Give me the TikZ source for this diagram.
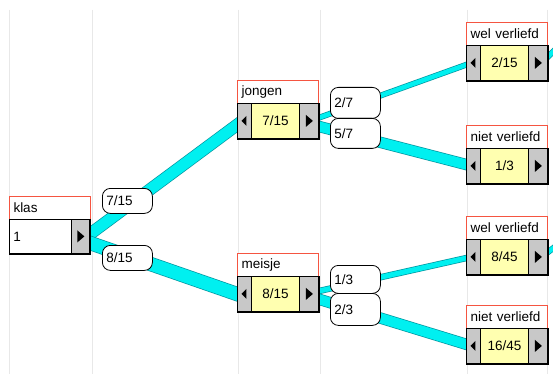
\documentclass[tikz,border=0pt]{standalone}
\usepackage{fontspec}
\setmainfont{Liberation Sans}
\usetikzlibrary{calc,backgrounds}
\definecolor{titlered}{RGB}{245,85,65}
\definecolor{valyellow}{RGB}{255,255,176}
\definecolor{btngray}{RGB}{200,200,200}
\definecolor{bandcyan}{RGB}{0,240,240}
\definecolor{bandedge}{RGB}{0,150,160}
\definecolor{gridgray}{RGB}{232,232,232}
\tikzset{
  gridline/.style={draw=gridgray, line width=1},
  titlebox/.style={draw=titlered, fill=white, line width=1, minimum width=81, minimum height=23,
    text width=73, inner xsep=4, inner ysep=0, align=left, anchor=north west},
  btn/.style={draw=black, fill=btngray, line width=0.8, minimum height=35, inner sep=0, anchor=north west},
  valbox/.style={draw=black, fill=valyellow, line width=0.8, minimum height=35, minimum width=48, inner sep=0, anchor=north west},
  whitebox/.style={draw=black, fill=white, line width=0.8, minimum height=34, minimum width=62,
    text width=54, inner xsep=4, inner ysep=0, align=left, anchor=north west},
  plabel/.style={draw=black, fill=white, line width=0.8, rounded corners=8, minimum width=50,
    text width=42, inner xsep=4, inner ysep=0, align=left, anchor=north west},
  band/.style={line width=#1, draw=bandcyan, preaction={draw=bandedge, line width=#1+1.4}},
}
\newcommand\rtri[1]{\fill[black] ($(#1.center)+(-3,-6)$) -- ++(0,12) -- ++(7,-6) -- cycle;}
\newcommand\ltri[1]{\fill[black] ($(#1.center)+(2,-5)$) -- ++(0,10) -- ++(-5,-5) -- cycle;}
\newcommand\pbox[5]{%
  \node[titlebox] (#1T) at (#2,#3) {#4};
  \node[btn, minimum width=14] (#1L) at (#2,#3+23) {};
  \node[valbox] (#1V) at (#2+14,#3+23) {#5};
  \node[btn, minimum width=19] (#1R) at (#2+62,#3+23) {};
  \draw[line width=2] ($(#1L.south west)+(0,0.5)$) -- ($(#1R.south east)+(0.5,0.5)$) -- ($(#1R.north east)+(0.5,0)$);
  \rtri{#1R}\ltri{#1L}}
\begin{document}
\begin{tikzpicture}[x=1pt,y=-1pt,font=\fontsize{13.5}{15}\selectfont]
\useasboundingbox (0,0) rectangle (553,374);
\clip (0,0) rectangle (553,374);
% boxes
\node[titlebox] (klasT) at (9,196) {klas};
\node[whitebox] (klasV) at (9,219) {1};
\node[btn, minimum width=18, minimum height=34] (klasR) at (71,219) {};
\draw[line width=2] ($(klasV.south west)+(0,0.5)$) -- ($(klasR.south east)+(0.5,0.5)$) -- ($(klasR.north east)+(0.5,0)$);
\rtri{klasR}
\pbox{j}{237}{80}{jongen}{7/15}
\pbox{m}{237}{253}{meisje}{8/15}
\pbox{wa}{466}{22}{wel verliefd}{2/15}
\pbox{na}{466}{125}{niet verliefd}{1/3}
\pbox{wb}{466}{216}{wel verliefd}{8/45}
\pbox{nb}{466}{305}{niet verliefd}{16/45}
% background: white, grid lines, bands
\begin{pgfonlayer}{background}
\fill[white] (0,0) rectangle (553,374);
\foreach \gx in {9.5,92,238,320,467,547} \draw[gridline] (\gx,10) -- (\gx,374);
\coordinate (waOut) at ($(waR.center)+(22,-18)$);
\coordinate (wbOut) at ($(wbR.center)+(22,-14)$);
\draw[band=11] ($(klasR.center)+(5,1)$) -- ($(jL.center)+(-2,0)$);
\draw[band=13] ($(klasR.center)+(5,5)$) -- ($(mL.center)+(-2,2)$);
\draw[band=4.5] ($(jR.center)+(4,-1)$) -- ($(waL.center)+(-2,0)$);
\draw[band=10] ($(jR.center)+(4,4)$) -- ($(naL.center)+(-2,0)$);
\draw[band=5] ($(mR.center)+(4,-1.5)$) -- ($(wbL.center)+(-2,0)$);
\draw[band=10] ($(mR.center)+(4,3.5)$) -- ($(nbL.center)+(-2,0)$);
\draw[band=4.5] ($(waR.center)+(4,0)$) -- (waOut);
\draw[band=4.5] ($(wbR.center)+(4,0)$) -- (wbOut);
\end{pgfonlayer}
% probability labels
\node[plabel, minimum height=25] (p1) at (102,188) {7/15};
\node[plabel, minimum height=25] (p2) at (102,245) {8/15};
\node[plabel, minimum height=31] (p3) at (330,87) {2/7};
\node[plabel, minimum height=30] (p4) at (330,118) {5/7};
\node[plabel, minimum height=28] (p5) at (330,265) {1/3};
\node[plabel, minimum height=32] (p6) at (330,293) {2/3};
\end{tikzpicture}
\end{document}
